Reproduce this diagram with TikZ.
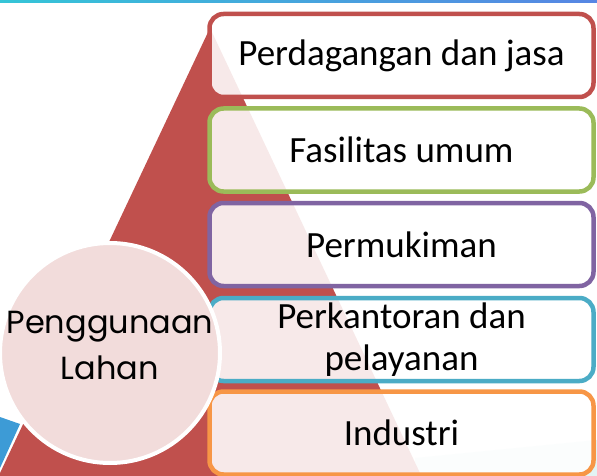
\documentclass[tikz,border=0pt]{standalone}
\usepackage{fontspec}
\setmainfont{Carlito}
\newfontfamily\roundfont{Poppins}
\usetikzlibrary{positioning}

\definecolor{tierred}{HTML}{C0504D}
\definecolor{tiergreen}{HTML}{9BBB59}
\definecolor{tierpurple}{HTML}{8064A2}
\definecolor{tierblue}{HTML}{4BACC6}
\definecolor{tierorange}{HTML}{F79646}
\definecolor{hubfill}{HTML}{F2DCDB}
\definecolor{skyblue}{HTML}{3D9BD6}
\definecolor{paleteal}{HTML}{E3F4F4}

\tikzset{
  tier/.style={draw=#1, line width=4.5pt, rounded corners=14pt,
    fill=white, fill opacity=0.88, text opacity=1,
    minimum width=384pt, minimum height=83pt, inner sep=0pt,
    align=center, font=\fontsize{37}{42}\selectfont},
  hub/.style={circle, draw=white, line width=4pt, fill=hubfill,
    minimum size=220pt, inner sep=0pt},
  hubtext/.style={align=center, inner sep=0pt,
    font=\roundfont\fontsize{32}{46}\selectfont}
}

\begin{document}
\begin{tikzpicture}[x=1pt, y=-1pt]
  \useasboundingbox (0,0) rectangle (597,476);
  \clip (0,0) rectangle (597,476);

  % slide background
  \fill[white] (0,0) rectangle (597,476);
  \shade[left color=tierblue!70!cyan, right color=tierblue!60!blue!80]
    (0,0) rectangle (597,2.5);
  \fill[skyblue] (0,417) -- (20,424) -- (0,468) -- cycle;
  \fill[paleteal] (415,476) -- (415,458) -- (597,440) -- (597,476) -- cycle;

  % pyramid
  \fill[tierred] (210,28) -- (428,490) -- (-8,490) -- cycle;

  % tiers
  \node[tier=tierred]    (t1) at (401.5,55.5)  {Perdagangan dan jasa};
  \node[tier=tiergreen]  (t2) at (401.5,150)   {Fasilitas umum};
  \node[tier=tierpurple] (t3) at (401.5,244.5) {Permukiman};
  \node[tier=tierblue]   (t4) at (401.5,339.5) {Perkantoran dan\\pelayanan};
  \node[tier=tierorange] (t5) at (401.5,433)   {Industri};

  % hub
  \node[hub] (hub) at (110,353) {};
  \node[hubtext] (hublabel) at ([yshift=8pt]hub.center) {Penggunaan\\Lahan};
\end{tikzpicture}
\end{document}
